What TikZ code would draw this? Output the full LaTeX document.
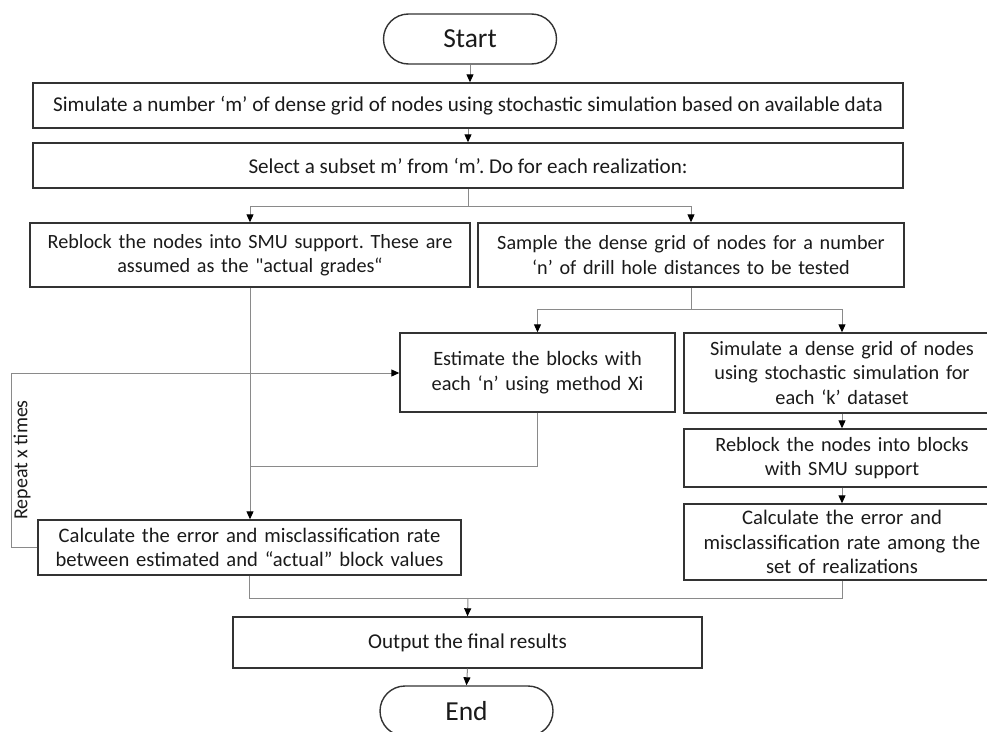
\documentclass[tikz,border=0pt]{standalone}
\usepackage{fontspec}
\setmainfont{Carlito}
\usetikzlibrary{arrows.meta}
\definecolor{boxcol}{HTML}{333333}
\definecolor{linecol}{HTML}{8A8A8A}
\definecolor{txtcol}{HTML}{1A1A1A}
\newcommand{\fsz}[1]{\fontsize{#1}{24.5}\selectfont\frenchspacing}
\tikzset{
  box/.style={draw=boxcol, line width=1.4pt, align=center, inner sep=0pt, text=txtcol},
  term/.style={box, minimum width=173pt, minimum height=50pt, rounded corners=25pt, font=\fsz{27.5}},
  conn/.style={draw=linecol, line width=1pt},
  arr/.style={conn, -{Triangle[length=8pt,width=7pt,color=black]}},
}
\begin{document}
\begin{tikzpicture}[x=1pt,y=-1pt]
\useasboundingbox (0,0) rectangle (987,731);
\clip (0,0) rectangle (987,731);
\node[term] (start) at (470,39) {Start};
\node[box, minimum width=870pt, minimum height=45pt, font=\fsz{21.1}] (box1) at (468,105.5) {Simulate a number ‘m’ of dense grid of nodes using stochastic simulation based on available data};
\node[box, minimum width=870pt, minimum height=45pt, font=\fsz{21.1}] (box2) at (468,165.5) {Select a subset m’ from ‘m’. Do for each realization:};
\node[box, minimum width=440pt, minimum height=64pt, text width=430pt, font=\fsz{20.2}] (reb1) at (250,255) {Reblock the nodes into SMU support. These are\\assumed as the \textquotedbl actual grades“};
\node[box, minimum width=426pt, minimum height=64pt, text width=416pt, font=\fsz{20.2}] (samp) at (691,255) {Sample the dense grid of nodes for a number\\‘n’ of drill hole distances to be tested};
\node[box, minimum width=275pt, minimum height=79pt, text width=265pt, font=\fsz{20.4}] (est) at (537.5,372.5) {Estimate the blocks with\\each ‘n’ using method Xi};
\node[box, minimum width=316pt, minimum height=80pt, text width=306pt, font=\fsz{20.3}] (sim2) at (842,373) {Simulate a dense grid of nodes\\using stochastic simulation for\\each ‘k’ dataset};
\node[box, minimum width=316pt, minimum height=58pt, text width=306pt, font=\fsz{20.3}] (reb2) at (842,458) {Reblock the nodes into blocks\\with SMU support};
\node[box, minimum width=316pt, minimum height=76pt, text width=306pt, font=\fsz{20.7}] (calc2) at (842,542) {Calculate the error and\\misclassification rate among the\\set of realizations};
\node[box, minimum width=423pt, minimum height=55pt, text width=413pt, font=\fsz{20.6}] (calc1) at (249.5,547.5) {Calculate the error and misclassification rate\\between estimated and “actual” block values};
\node[box, minimum width=469pt, minimum height=51pt, font=\fsz{21.1}] (out) at (467.5,642.5) {Output the final results};
\node[term] (end) at (466.5,711) {End};
\node[rotate=90, text=txtcol, font=\fsz{20}, inner sep=0pt] (rep) at (22,460) {Repeat x times};
\coordinate (br1) at (468,206);
\coordinate (br2) at (691,309);
\coordinate (j1) at (250,466);
\coordinate (r2) at (11,373);
\coordinate (j2) at (468,598);
\draw[arr] (start.south) -- (start.south |- box1.north);
\draw[arr] (box1.south) -- (box2.north);
\draw[conn] (box2.south) -- (br1);
\draw[arr] (br1) -| (reb1.north);
\draw[arr] (br1) -| (samp.north);
\draw[conn] (samp.south) -- (br2);
\draw[arr] (br2) -| (est.north);
\draw[arr] (br2) -| (sim2.north);
\draw[arr] (sim2) -- (reb2);
\draw[arr] (reb2) -- (calc2);
\draw[arr] (reb1.south) -- (reb1.south |- calc1.north);
\draw[conn] (est.south) |- (j1);
\draw[arr] (calc1.west) -| (r2) -- (est.west |- r2);
\draw[conn] (calc1.south) |- (j2);
\draw[conn] (calc2.south) |- (j2);
\draw[arr] (j2) -- (out.north);
\draw[arr] (out.south) -- (end.north);
\end{tikzpicture}
\end{document}
